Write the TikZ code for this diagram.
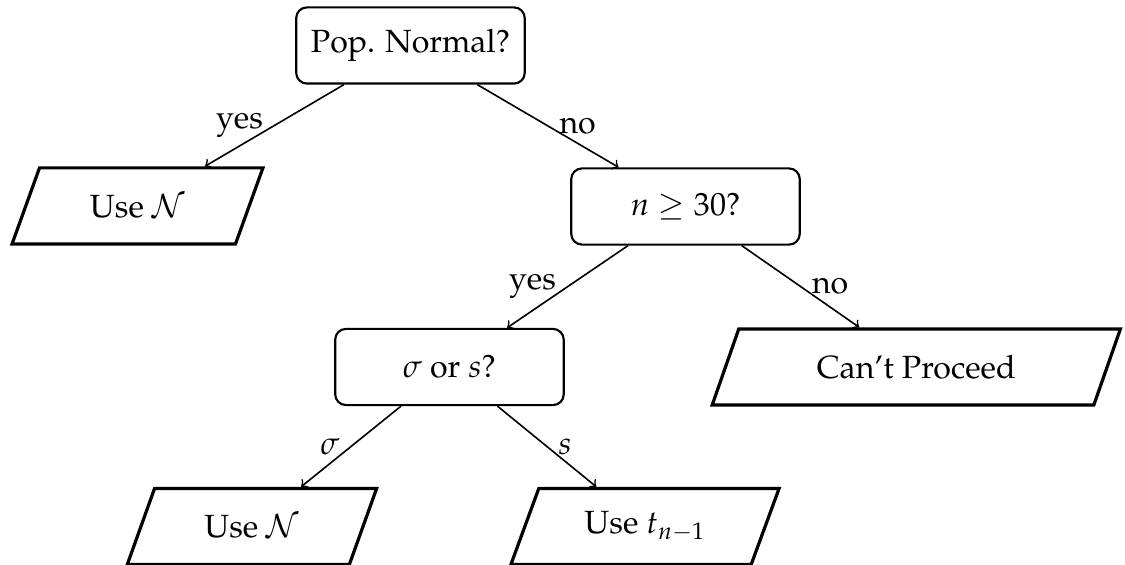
\documentclass[tikz,border=0pt,12pt]{standalone}
\usepackage[T1]{fontenc}
\usepackage{mathpazo}
\usetikzlibrary{shapes.geometric}

\begin{document}
\begin{tikzpicture}[
  >=to,
  dec/.style={draw, thick, rounded corners, minimum width=3cm, minimum height=1cm},
  io/.style={draw, very thick, trapezium, trapezium left angle=70, trapezium right angle=110,
             trapezium stretches=true, minimum height=1cm},
  link/.style={->, semithick}
]
\useasboundingbox (0,0) rectangle (14.77,-7.417);

% questions
\node[dec] (pop) at (5.389,-0.597) {Pop. Normal?};
\node[dec] (big) at (9.000,-2.711) {$n\geq 30$?};
\node[dec] (sig) at (5.901,-4.818) {$\sigma$ or $s$?};

% outcomes
\node[io, minimum width=3.30cm] (useA) at (1.805,-2.704) {Use $\mathcal{N}$};
\node[io, minimum width=5.40cm] (cant) at (12.03,-4.818) {Can't Proceed};
\node[io, minimum width=3.28cm] (useB) at (3.308,-6.912) {Use $\mathcal{N}$};
\node[io, minimum width=3.54cm] (useT) at (8.468,-6.912) {Use $t_{n-1}$};

\draw[link] (pop) -- node[left] {yes} (useA);
\draw[link] (pop) -- node[right] {no} (big);
\draw[link] (big) -- node[left] {yes} (sig);
\draw[link] (big) -- node[right] {no} (cant);
\draw[link] (sig) -- node[left] {$\sigma$} (useB);
\draw[link] (sig) -- node[right] {$s$} (useT);
\end{tikzpicture}
\end{document}
